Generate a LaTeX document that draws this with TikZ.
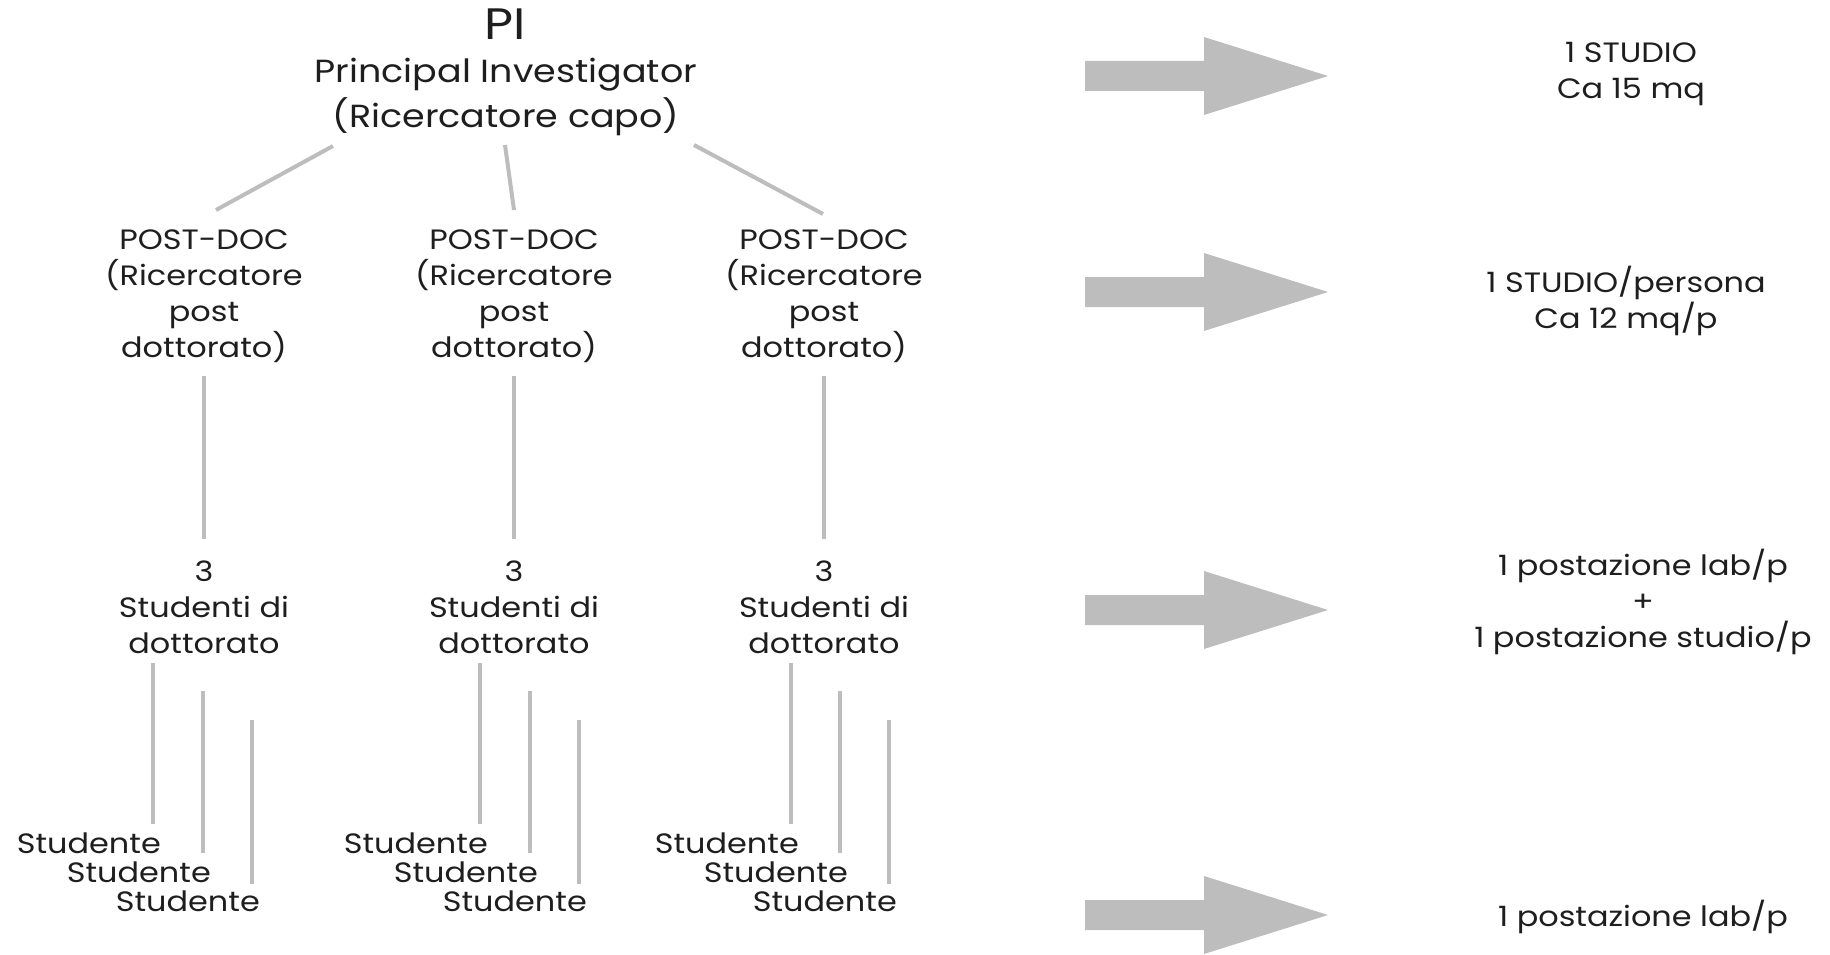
\documentclass[tikz,border=0pt]{standalone}
\usepackage{fontspec}
\setmainfont{Poppins}[FakeStretch=1.14]
\definecolor{txt}{HTML}{1E1E1E}
\definecolor{conn}{HTML}{BDBDBD}
\tikzset{
  lbl/.style={inner sep=0pt, text=txt, align=center},
  big/.style={lbl, font=\fontsize{44}{48}\selectfont},
  head/.style={lbl, font=\fontsize{32}{45}\selectfont},
  mid/.style={lbl, font=\fontsize{28}{36}\selectfont},
  side/.style={lbl, font=\fontsize{28}{36}\selectfont},
  stud/.style={lbl, font=\fontsize{28}{34}\selectfont, anchor=base east},
  link/.style={draw=conn, line width=4pt},
  fatarrow/.style={fill=conn, draw=none}
}
\begin{document}
\begin{tikzpicture}[x=1pt, y=-1pt]
\useasboundingbox (0,0) rectangle (1830,955);
% top
\node[big, anchor=base] (pi) at (505,40) {PI};
\node[head] (pihead) at (506,97) {Principal Investigator\\(Ricercatore capo)};
% postdocs
\node[mid] (pd1) at (204,296) {POST-DOC\\(Ricercatore\\post\\dottorato)};
\node[mid] (pd2) at (514,296) {POST-DOC\\(Ricercatore\\post\\dottorato)};
\node[mid] (pd3) at (824,296) {POST-DOC\\(Ricercatore\\post\\dottorato)};
% PI connectors
\coordinate (a1) at (333,146); \coordinate (b1) at (216,210);
\coordinate (a2) at (505,145); \coordinate (b2) at (514,210);
\coordinate (a3) at (694,145); \coordinate (b3) at (823,214);
\draw[link] (a1) -- (b1);
\draw[link] (a2) -- (b2);
\draw[link] (a3) -- (b3);
% phd blocks
\node[mid] (ph1) at (204,607) {3\\Studenti di\\dottorato};
\node[mid] (ph2) at (514,607) {3\\Studenti di\\dottorato};
\node[mid] (ph3) at (824,607) {3\\Studenti di\\dottorato};
\foreach \x/\i in {204/1,514/2,824/3}{
  \coordinate (v\i a) at (\x,376);
  \coordinate (v\i b) at (\x,539);
  \draw[link] (v\i a) -- (v\i b);
}
% students
\foreach \c/\xa/\xb/\xc in {1/153/203/252, 2/480/530/579, 3/791/840/889}{
  \coordinate (s\c a1) at (\xa,663); \coordinate (s\c a2) at (\xa,824);
  \coordinate (s\c b1) at (\xb,691); \coordinate (s\c b2) at (\xb,853);
  \coordinate (s\c c1) at (\xc,720); \coordinate (s\c c2) at (\xc,884);
  \draw[link] (s\c a1) -- (s\c a2);
  \draw[link] (s\c b1) -- (s\c b2);
  \draw[link] (s\c c1) -- (s\c c2);
  \node[stud] (st\c a) at (\xa+8,853) {Studente};
  \node[stud] (st\c b) at (\xb+8,882) {Studente};
  \node[stud] (st\c c) at (\xc+8,911) {Studente};
}
% arrows
\foreach \cy/\i in {76/1,292/2,610/3,915/4}{
  \fill[fatarrow] (1085,\cy-15) -- (1204,\cy-15) -- (1204,\cy-39) -- (1328,\cy)
    -- (1204,\cy+39) -- (1204,\cy+15) -- (1085,\cy+15) -- cycle;
  \coordinate (arr\i) at (1328,\cy);
}
% right texts
\node[side] (r1) at (1631,74) {1 STUDIO\\Ca 15 mq};
\node[side] (r2) at (1626,301) {1 STUDIO/persona\\Ca 12 mq/p};
\node[side] (r3) at (1643,602) {1 postazione lab/p\\+\\1 postazione studio/p};
\node[side] (r4) at (1643,917) {1 postazione lab/p};
\end{tikzpicture}
\end{document}
